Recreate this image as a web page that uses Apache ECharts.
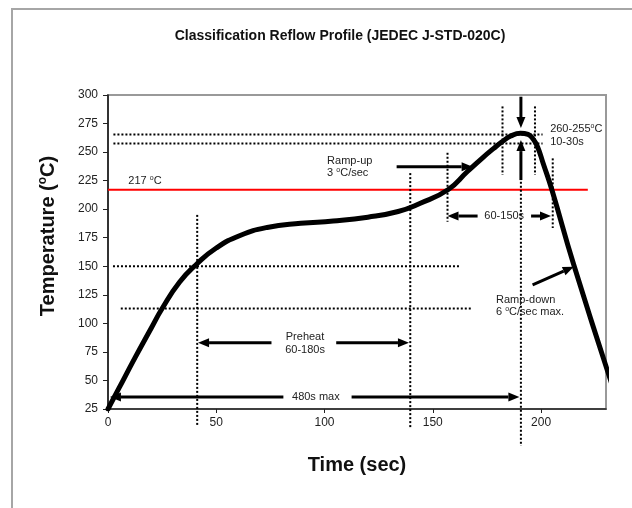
<!DOCTYPE html>
<html>
<head>
<meta charset="utf-8">
<script src="https://cdn.jsdelivr.net/npm/echarts@6/dist/echarts.min.js"></script>
<style>
html, body { margin: 0; padding: 0; background: #fff; }
#chart { width: 632px; height: 508px; }
</style>
</head>
<body>
<div id="chart"></div>
<script>
// Reflow profile: time (s) vs. temperature (°C)
const timeSec = [0, 5, 12.5, 20, 25, 33, 41, 50, 61, 73.5, 89, 104, 120, 134, 144, 157, 166, 173, 178, 182, 186, 190.5, 194, 196.5, 198.5, 201, 205, 215, 233];
const tempC   = [25, 43, 70, 96, 113, 136, 152, 166, 177, 184, 187.6, 189.6, 193, 198, 205, 217, 233, 245, 253, 259, 264, 266.5, 265.5, 261, 254, 240, 217, 152, 45];

const xTickValues = [0, 50, 100, 150, 200];
const xRange = [0, 230];
const yRange = [25, 300];

// Liquidus line
const liquidusTemp = 217;
const liquidusSpan = [0, 221.6];

// Dotted guide lines: [x1, y1, x2, y2]
const guideLines = [
  [2.5, 265.5, 200.7, 265.5],
  [2.5, 257.6, 200.7, 257.6],
  [2.3, 150, 162.5, 150],
  [5.9, 113, 168, 113],
  [41.2, 195, 41.2, 10],
  [139.6, 231.6, 139.6, 9],
  [156.8, 249.4, 156.8, 189],
  [182.2, 290, 182.2, 230],
  [197.2, 290, 197.2, 230],
  [205.4, 244.5, 205.4, 183.5],
  [190.7, 224, 190.7, -7.4]
];

// Arrows: [xFrom, yFrom, xTip, yTip]
const arrows = [
  [81, 35.5, 0.9, 35.5],
  [112.5, 35.5, 190, 35.5],
  [75.5, 83, 41.6, 83],
  [105.4, 83, 139, 83],
  [133.3, 237.2, 168.4, 237.2],
  [170.7, 194, 156.8, 194],
  [195.4, 194, 204.6, 194],
  [190.7, 298.5, 190.7, 271],
  [190.7, 225.5, 190.7, 260.5],
  [196.1, 133.7, 215.1, 149.6]
];

// Annotation labels: [text, x, y, align]
const notes = [
  ['217 {s|o}C', 9.4, 224.6, 'left'],
  ['Ramp-up\n3 {s|o}C/sec', 101.2, 237, 'left'],
  ['Preheat\n60-180s', 91, 82.4, 'center'],
  ['480s max', 96, 35.5, 'center'],
  ['60-150s', 183, 194, 'center'],
  ['260-255{s|o}C\n10-30s', 204.2, 264.5, 'left'],
  ['Ramp-down\n6 {s|o}C/sec max.', 179.2, 115.2, 'left']
];

const FONT = '"Liberation Sans", Arial, sans-serif';

const chart = echarts.init(document.getElementById('chart'));

chart.setOption({
  backgroundColor: '#fff',
  animation: false,
  title: {
    text: 'Classification Reflow Profile (JEDEC J-STD-020C)',
    left: 335,
    top: 24,
    textAlign: 'center',
    textStyle: { fontFamily: FONT, fontSize: 14, fontWeight: 'bold', color: '#111' }
  },
  grid: {
    left: 108, right: 26, top: 95, bottom: 99,
    show: true, borderColor: '#999', borderWidth: 2, backgroundColor: '#fff'
  },
  xAxis: {
    type: 'value',
    min: xRange[0], max: xRange[1], interval: 50,
    name: 'Time (sec)',
    nameLocation: 'middle',
    nameGap: 46,
    nameTextStyle: { fontFamily: FONT, fontSize: 20, fontWeight: 'bold', color: '#111' },
    axisLine: { show: true, onZero: false, lineStyle: { color: '#222', width: 1.5 } },
    axisTick: { show: true, length: 4, customValues: xTickValues, lineStyle: { color: '#222' } },
    axisLabel: { customValues: xTickValues, fontFamily: FONT, fontSize: 12, color: '#222', margin: 8 },
    splitLine: { show: false }
  },
  yAxis: {
    type: 'value',
    min: yRange[0], max: yRange[1], interval: 25,
    name: 'Temperature ({s|o}C)',
    nameLocation: 'middle',
    nameGap: 49,
    nameTextStyle: {
      fontFamily: FONT, fontSize: 20, fontWeight: 'bold', color: '#111', lineHeight: 22,
      padding: [0, 0, 0, 32],
      rich: { s: { fontFamily: FONT, fontSize: 12, fontWeight: 'bold', color: '#111', verticalAlign: 'top', lineHeight: 22 } }
    },
    axisLine: { show: true, lineStyle: { color: '#111', width: 1.5 } },
    axisTick: { show: true, length: 5, lineStyle: { color: '#222' } },
    axisLabel: { fontFamily: FONT, fontSize: 12, color: '#222', margin: 10 },
    splitLine: { show: false }
  },
  series: [
    {
      name: 'Liquidus',
      type: 'line',
      data: liquidusSpan.map(x => [x, liquidusTemp]),
      symbol: 'none',
      lineStyle: { color: '#ff0000', width: 2 },
      z: 3
    },
    {
      name: 'Profile',
      type: 'line',
      data: timeSec.map((t, i) => [t, tempC[i]]),
      symbol: 'none',
      smooth: 0.5,
      clip: true,
      lineStyle: { color: '#000', width: 5, cap: 'round', join: 'round' },
      z: 5
    }
  ]
});

// Overlay guides, arrows and notes positioned through the axes
const toPx = (x, y) => chart.convertToPixel({ gridIndex: 0 }, [x, y]);
const elements = [];

// page frame
elements.push({ type: 'line', shape: { x1: 11, y1: 9, x2: 632, y2: 9 }, style: { stroke: '#a6a6a6', lineWidth: 2 }, silent: true });
elements.push({ type: 'line', shape: { x1: 12, y1: 9, x2: 12, y2: 508 }, style: { stroke: '#a6a6a6', lineWidth: 2 }, silent: true });

guideLines.forEach(([x1, y1, x2, y2]) => {
  const a = toPx(x1, y1), b = toPx(x2, y2);
  elements.push({
    type: 'line', z: 4,
    shape: { x1: a[0], y1: a[1], x2: b[0], y2: b[1] },
    style: { stroke: '#000', lineWidth: 2, lineDash: [2, 2] },
    silent: true
  });
});

arrows.forEach(([x1, y1, x2, y2]) => {
  const a = toPx(x1, y1), b = toPx(x2, y2);
  const dx = b[0] - a[0], dy = b[1] - a[1];
  const len = Math.hypot(dx, dy);
  const ux = dx / len, uy = dy / len;
  const headL = 11, headW = 4.5;
  const bx = b[0] - ux * headL, by = b[1] - uy * headL;
  elements.push({
    type: 'line', z: 6,
    shape: { x1: a[0], y1: a[1], x2: bx, y2: by },
    style: { stroke: '#000', lineWidth: 3 },
    silent: true
  });
  elements.push({
    type: 'polygon', z: 6,
    shape: { points: [[b[0], b[1]], [bx - uy * headW, by + ux * headW], [bx + uy * headW, by - ux * headW]] },
    style: { fill: '#000' },
    silent: true
  });
});

notes.forEach(([text, x, y, align]) => {
  const p = toPx(x, y);
  elements.push({
    type: 'text', z: 7,
    x: p[0], y: p[1],
    style: {
      text: text,
      align: align,
      verticalAlign: 'middle',
      fontFamily: FONT,
      fontSize: 11,
      lineHeight: 12.5,
      fill: '#222',
      rich: { s: { fontFamily: FONT, fontSize: 7, fill: '#222', verticalAlign: 'top', lineHeight: 12.5 } }
    },
    silent: true
  });
});

chart.setOption({ graphic: { elements: elements } });
</script>
</body>
</html>
